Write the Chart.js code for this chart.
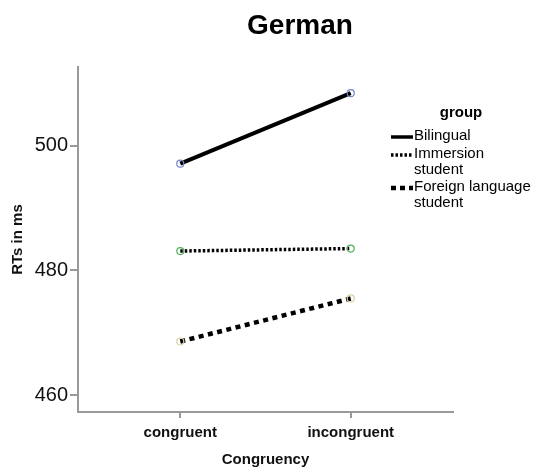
<!DOCTYPE html>
<html>
<head>
<meta charset="utf-8">
<script src="https://cdn.jsdelivr.net/npm/chart.js@4"></script>
<style>
  html, body { margin: 0; padding: 0; background: #fff; }
  #wrap { width: 535px; height: 469px; }
</style>
</head>
<body>
<div id="wrap"><canvas id="chartGerman" width="535" height="469"></canvas></div>
<script>
// data
const categories = ["congruent", "incongruent"];
const groups = ["Bilingual", "Immersion student", "Foreign language student"];
const bilingual = [497.1, 508.4];
const immersion = [483.1, 483.5];
const foreign = [468.6, 475.5];
const yTicks = [460, 480, 500];

const FONT = "'Liberation Sans', Arial, sans-serif";

function toPoints(values) {
  return values.map((v, i) => ({ x: i, y: v }));
}

// title + SPSS style legend drawn on the canvas
const decorPlugin = {
  id: "decor",
  afterDraw(chart) {
    const ctx = chart.ctx;
    ctx.save();
    ctx.fillStyle = "#000";
    ctx.textAlign = "center";
    ctx.textBaseline = "middle";
    ctx.font = "bold 28px " + FONT;
    ctx.fillText("German", 300, 26);

    ctx.font = "bold 15px " + FONT;
    ctx.fillText("group", 461, 113);

    const items = [
      { lines: ["Bilingual"], y: 137, dash: [], width: 3.5 },
      { lines: ["Immersion", "student"], y: 155, dash: [2.5, 2], width: 3.5 },
      { lines: ["Foreign language", "student"], y: 188, dash: [5, 4], width: 4.5 },
    ];
    ctx.textAlign = "left";
    ctx.font = "15px " + FONT;
    items.forEach((it) => {
      ctx.strokeStyle = "#000";
      ctx.lineWidth = it.width;
      ctx.setLineDash(it.dash);
      ctx.beginPath();
      ctx.moveTo(391, it.y);
      ctx.lineTo(413, it.y);
      ctx.stroke();
      it.lines.forEach((t, j) => {
        ctx.fillText(t, 414, it.y - 1 + j * 16);
      });
    });
    ctx.restore();
  },
};

new Chart(document.getElementById("chartGerman"), {
  type: "line",
  data: {
    datasets: [
      {
        label: groups[0],
        data: toPoints(bilingual),
        borderColor: "#000",
        borderWidth: 4,
        pointRadius: 3.5,
        pointBorderWidth: 1.2,
        pointBorderColor: "#7383c4",
        pointBackgroundColor: "rgba(255,255,255,0)",
      },
      {
        label: groups[1],
        data: toPoints(immersion),
        borderColor: "#000",
        borderWidth: 3.5,
        borderDash: [2.5, 2],
        pointRadius: 3.5,
        pointBorderWidth: 1.2,
        pointBorderColor: "#4fb25a",
        pointBackgroundColor: "rgba(255,255,255,0)",
      },
      {
        label: groups[2],
        data: toPoints(foreign),
        borderColor: "#000",
        borderWidth: 4.5,
        borderDash: [5, 4.5],
        pointRadius: 3.5,
        pointBorderWidth: 1.2,
        pointBorderColor: "#d9d0a5",
        pointBackgroundColor: "rgba(255,255,255,0)",
      },
    ],
  },
  options: {
    responsive: false,
    animation: false,
    layout: { padding: { top: 67, right: 82, bottom: 0, left: 0 } },
    plugins: {
      legend: { display: false },
      title: { display: false },
      tooltip: { enabled: false },
    },
    scales: {
      x: {
        type: "linear",
        min: -0.6,
        max: 1.6,
        afterBuildTicks: (scale) => {
          scale.ticks = categories.map((c, i) => ({ value: i }));
        },
        afterFit: (scale) => {
          scale.height = 57;
        },
        ticks: {
          callback: (v) => categories[v],
          font: { family: FONT, size: 15, weight: "bold" },
          color: "#111",
          padding: 6,
          maxRotation: 0,
        },
        grid: { drawOnChartArea: false, drawTicks: true, tickLength: 6, color: "#999", lineWidth: 2 },
        border: { color: "#999", width: 2 },
        title: {
          display: true,
          text: "Congruency",
          font: { family: FONT, size: 15, weight: "bold" },
          color: "#111",
          padding: { top: 0, bottom: 0 },
        },
      },
      y: {
        min: 457.3,
        max: 512.6,
        afterBuildTicks: (scale) => {
          scale.ticks = yTicks.map((v) => ({ value: v }));
        },
        afterFit: (scale) => {
          scale.width = 78;
        },
        ticks: {
          font: { family: FONT, size: 20 },
          color: "#111",
          padding: 2,
        },
        grid: { drawOnChartArea: false, drawTicks: true, tickLength: 8, color: "#999", lineWidth: 2 },
        border: { color: "#999", width: 2 },
        title: {
          display: true,
          text: "RTs in ms",
          font: { family: FONT, size: 15, weight: "bold" },
          color: "#111",
          padding: { top: 9, bottom: 0 },
        },
      },
    },
  },
  plugins: [decorPlugin],
});
</script>
</body>
</html>
